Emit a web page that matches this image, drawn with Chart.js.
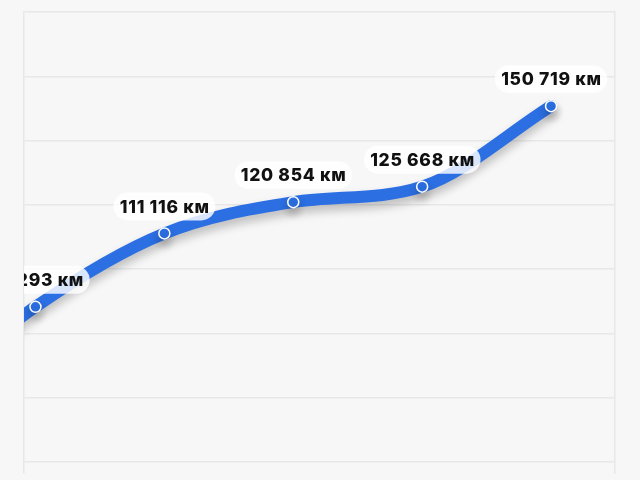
<!DOCTYPE html>
<html>
<head>
<meta charset="utf-8">
<script src="https://cdn.jsdelivr.net/npm/chart.js@4.4.1/dist/chart.umd.min.js"></script>
<style>
  html, body { margin: 0; padding: 0; background: #f7f7f7; overflow: hidden; }
  #wrap { width: 640px; height: 480px; }
</style>
</head>
<body>
<div id="wrap"><canvas id="mileage"></canvas></div>
<script>
// positions along the timeline (first one is scrolled out of view)
const steps = [0, 1, 2, 3, 4, 5];
const mileage = [56000, 88293, 111116, 120854, 125668, 150719];
const unit = 'км';
const gridValues = [40000, 60000, 80000, 100000, 120000, 140000, 160000, 180000];

const fmt = (v) => String(v).replace(/\B(?=(\d{3})+(?!\d))/g, ' ') + ' ' + unit;

// soft shadow under the line
const lineShadow = {
    id: 'lineShadow',
    beforeDatasetDraw(chart) {
        const ctx = chart.ctx;
        ctx.save();
        ctx.shadowColor = 'rgba(0, 0, 0, 0.24)';
        ctx.shadowBlur = 10;
        ctx.shadowOffsetY = 6;
    },
    afterDatasetDraw(chart) {
        chart.ctx.restore();
    }
};

// pill labels above each point, clipped to the chart area
const pillLabels = {
    id: 'pillLabels',
    afterDatasetsDraw(chart) {
        const ctx = chart.ctx;
        const area = chart.chartArea;
        const meta = chart.getDatasetMeta(0);
        ctx.save();
        ctx.beginPath();
        ctx.rect(area.left, area.top, area.right - area.left, area.bottom - area.top);
        ctx.clip();
        ctx.font = '800 17.5px Inter, "Noto Sans", sans-serif';
        ctx.letterSpacing = '0.7px';
        ctx.textAlign = 'center';
        ctx.textBaseline = 'middle';
        meta.data.forEach((pt, i) => {
            const text = fmt(mileage[i]);
            const w = ctx.measureText(text).width + 12;
            const h = 28;
            const cx = pt.x;
            const cy = pt.y - 27;
            ctx.fillStyle = 'rgba(255, 255, 255, 0.82)';
            ctx.beginPath();
            ctx.roundRect(cx - w / 2, cy - h / 2, w, h, 14);
            ctx.fill();
            ctx.fillStyle = '#111111';
            ctx.fillText(text, cx + 0.35, cy + 1);
        });
        ctx.restore();
    }
};

new Chart(document.getElementById('mileage'), {
    type: 'line',
    data: {
        datasets: [{
            data: steps.map((s, i) => ({ x: s, y: mileage[i] })),
            borderColor: '#2c6fe3',
            borderWidth: 12,
            borderCapStyle: 'round',
            cubicInterpolationMode: 'monotone',
            pointRadius: 5.5,
            pointBackgroundColor: '#2c6fe3',
            pointBorderColor: '#ffffff',
            pointBorderWidth: 1.5,
            fill: false
        }]
    },
    options: {
        responsive: true,
        maintainAspectRatio: false,
        animation: false,
        layout: { padding: { left: 24, right: 25, top: 12, bottom: 0 } },
        plugins: {
            legend: { display: false },
            tooltip: { enabled: false }
        },
        scales: {
            x: {
                type: 'linear',
                min: 0.911,
                max: 5.496,
                display: false
            },
            y: {
                min: 36600,
                max: 180000,
                afterBuildTicks: (axis) => {
                    axis.ticks = gridValues.map(v => ({ value: v }));
                },
                ticks: { display: false },
                grid: {
                    color: '#e8e8e8',
                    lineWidth: 1.5,
                    drawTicks: false
                },
                border: { display: true, color: '#e8e8e8', width: 1.5 }
            },
            y2: {
                position: 'right',
                min: 0,
                max: 1,
                ticks: { display: false },
                grid: { display: false, drawTicks: false },
                border: { display: true, color: '#e8e8e8', width: 1.5 }
            }
        }
    },
    plugins: [lineShadow, pillLabels]
});
</script>
</body>
</html>
